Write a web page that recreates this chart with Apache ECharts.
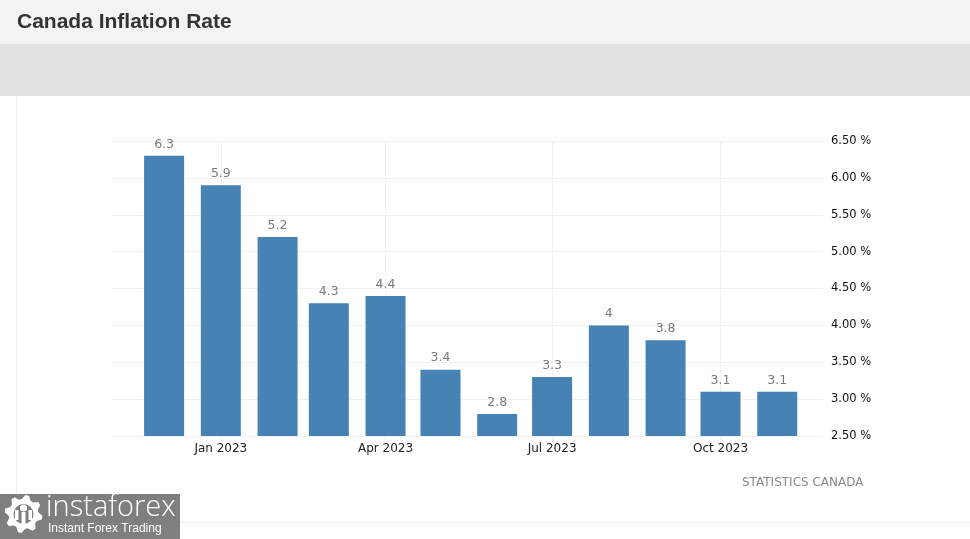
<!DOCTYPE html>
<html><head><meta charset="utf-8">
<script src="https://cdn.jsdelivr.net/npm/echarts@6/dist/echarts.min.js"></script>
<style>html,body{margin:0;padding:0;background:#fff}#c{width:970px;height:539px}</style>
</head><body><div id="c"></div>
<script>
// ---- data ----
const months = ['2022-12-01','2023-01-01','2023-02-01','2023-03-01','2023-04-01','2023-05-01','2023-06-01','2023-07-01','2023-08-01','2023-09-01','2023-10-01','2023-11-01'];
const inflation = [6.3, 5.9, 5.2, 4.3, 4.4, 3.4, 2.8, 3.3, 4, 3.8, 3.1, 3.1];
const xTickDates = ['2023-01-01','2023-04-01','2023-07-01','2023-10-01'];
const xTickLabels = ['Jan 2023','Apr 2023','Jul 2023','Oct 2023'];
const yMin = 2.5, yMax = 6.5, yStep = 0.5;
const xRange = ['2022-11-02','2023-11-26'];

function t(d){ const p = d.split('-').map(Number); return Date.UTC(p[0], p[1]-1, p[2]); }
const tickTimes = xTickDates.map(t);
const labelOf = {}; tickTimes.forEach((v,i)=>{ labelOf[v] = xTickLabels[i]; });

// gear polygon for logo
function gearPoints(cx, cy, rOut, rIn, teeth){
  const pts = []; const n = teeth*4;
  for (let i=0;i<n;i++){
    const a = (i/n)*Math.PI*2 - Math.PI/2 + Math.PI/n;
    const r = (i%4===0||i%4===1) ? rOut : rIn;
    pts.push([cx + r*Math.cos(a), cy + r*Math.sin(a)]);
  }
  return pts;
}

const chart = echarts.init(document.getElementById('c'), null, {renderer:'canvas'});
const axisFont = '"DejaVu Sans", Verdana, sans-serif';
chart.setOption({
  backgroundColor: '#ffffff',
  animation: false,
  grid: { left: 111, right: 147, top: 141, bottom: 103, containLabel: false },
  xAxis: {
    type: 'value',
    min: t(xRange[0]), max: t(xRange[1]),
    axisLine: { show: false },
    axisTick: { show: true, customValues: tickTimes, length: 4, lineStyle: { color: '#ececec' } },
    splitLine: { show: false },
    axisLabel: {
      customValues: tickTimes,
      formatter: v => labelOf[v] || '',
      color: '#222', fontSize: 12, fontFamily: axisFont, margin: 7
    }
  },
  yAxis: {
    type: 'value', position: 'right',
    min: yMin, max: yMax, interval: yStep,
    axisLine: { show: false }, axisTick: { show: false },
    splitLine: { lineStyle: { color: '#f0f0f0', width: 1 } },
    axisLabel: {
      formatter: v => v.toFixed(2) + ' %',
      color: '#111', fontSize: 11.5, fontFamily: axisFont, margin: 8,
      padding: [3, 0, 0, 0]
    }
  },
  series: [
    {
      type: 'line', data: [], z: 1, silent: true,
      markLine: {
        z: 1, silent: true, symbol: ['none','none'], label: { show: false },
        lineStyle: { color: '#f0f0f0', type: 'solid', width: 1 },
        data: tickTimes.map(v => ({ xAxis: v }))
      }
    },
    {
      type: 'bar', z: 3,
      barWidth: 40,
      data: months.map((m,i) => [t(m), inflation[i]]),
      itemStyle: { color: '#4682B4' },
      label: {
        show: true, position: 'top', distance: 5,
        color: '#7a7a7a', fontSize: 12.5, fontFamily: axisFont,
        formatter: p => String(p.value[1])
      }
    }
  ],
  graphic: [
    { type: 'rect', z: -10, shape: { x: 0, y: 0, width: 970, height: 44 }, style: { fill: '#f3f3f3' } },
    { type: 'rect', z: -10, shape: { x: 0, y: 44, width: 970, height: 52 }, style: { fill: '#e2e2e2' } },
    { type: 'text', left: 17, top: 12, style: { text: 'Canada Inflation Rate', fill: '#333', font: 'bold 21px "Liberation Sans", Arial, sans-serif' } },
    { type: 'line', z: -5, shape: { x1: 16.5, y1: 96, x2: 16.5, y2: 522 }, style: { stroke: '#f0f0f0', lineWidth: 1 } },
    { type: 'line', z: -5, shape: { x1: 16, y1: 522.5, x2: 970, y2: 522.5 }, style: { stroke: '#f0f0f0', lineWidth: 1 } },
    { type: 'text', left: 742, top: 477, style: { text: 'STATISTICS CANADA', fill: '#888', font: '12px "DejaVu Sans", Verdana, sans-serif' } },
    { type: 'rect', shape: { x: 0, y: 494, width: 180, height: 45 }, style: { fill: '#7f7f7f' } },
    { type: 'polygon', shape: { points: gearPoints(23.5, 514, 19, 15, 8) }, style: { fill: '#ffffff' } },
    { type: 'circle', shape: { cx: 23.5, cy: 514, r: 10 }, style: { fill: '#7f7f7f' } },
    { type: 'circle', shape: { cx: 23.5, cy: 508, r: 3.5 }, style: { fill: '#ffffff' } },
    { type: 'rect', shape: { x: 21.5, y: 512, width: 4, height: 12 }, style: { fill: '#ffffff' } },
    { type: 'rect', shape: { x: 15, y: 510, width: 3.5, height: 10 }, style: { fill: '#ffffff' } },
    { type: 'rect', shape: { x: 28.5, y: 510, width: 3.5, height: 10 }, style: { fill: '#ffffff' } },
    { type: 'text', left: 46, top: 493, style: { text: 'instaforex', fill: '#ffffff', font: '300 29px "Open Sans", Lato, sans-serif' } },
    { type: 'text', left: 48, top: 523, style: { text: 'Instant Forex Trading', fill: '#ffffff', font: '12px "Liberation Sans", Arial, sans-serif' } }
  ]
});
</script></body></html>
